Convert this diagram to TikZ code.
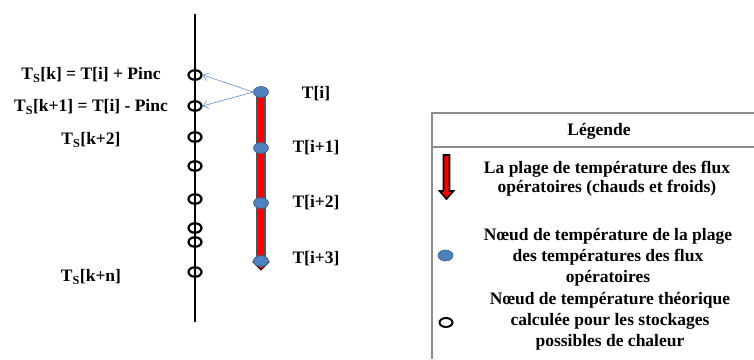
\documentclass[tikz,border=0pt]{standalone}
\usepackage{fontspec}
\setmainfont{Liberation Serif}
\usetikzlibrary{shapes.geometric,arrows.meta}
\definecolor{dotblue}{HTML}{4F81BD}
\definecolor{dotedge}{HTML}{385D8A}
\definecolor{arrblue}{HTML}{5B8FD0}
\definecolor{boxgray}{HTML}{8C8C8C}
\begin{document}
\begin{tikzpicture}[x=1pt,y=-1pt,
  txt/.style={font=\bfseries\fontsize{17.5}{20}\selectfont, inner sep=0pt},
  legtxt/.style={font=\bfseries\fontsize{17.5}{21}\selectfont, align=center, inner sep=0pt},
  opencirc/.style={ellipse, draw=black, line width=2.2pt, minimum width=13pt, minimum height=9.5pt, inner sep=0pt},
  bluedot/.style={ellipse, fill=dotblue, draw=dotedge, line width=0.6pt, minimum width=15pt, minimum height=11pt, inner sep=0pt},
  link/.style={draw=arrblue, line width=0.6pt, -{Straight Barb[length=5pt,width=8pt]}}
]
\useasboundingbox (0,0) rectangle (754,359);
% axis
\coordinate (axtop) at (195,14);
\coordinate (axbot) at (195,322);
\draw[line width=2.6pt] (axtop) -- (axbot);
% open circles
\foreach \n/\y in {c0/75,c1/106,c2/137,c3/166,c4/199,c5/228,c6/242,c7/272}
  \node[opencirc] (\n) at (195,\y) {};
% red range bar
\fill[red] (257,92) rectangle (265,262);
\draw[boxgray!60!black, line width=1.3pt] (257,92) -- (257,262) (265,92) -- (265,262);
\filldraw[fill=red, draw=black, line width=0.8pt] (253,262) -- (269,262) -- (261,270) -- cycle;
% blue dots
\node[bluedot] (d0) at (261,92) {};
\node[bluedot] (d1) at (261,148) {};
\node[bluedot] (d2) at (261,203) {};
\node[bluedot] (d3) at (261,261) {};
% links
\draw[link] (d0.west) -- (c0.east);
\draw[link] (d0.west) -- (c1.east);
% left labels
\node[txt] (l0) at (91,75) {T\textsubscript{S}[k] = T[i] + Pinc};
\node[txt] (l1) at (91,107) {T\textsubscript{S}[k+1] = T[i] - Pinc};
\node[txt] (l2) at (91,140) {T\textsubscript{S}[k+2]};
\node[txt] (l3) at (91,277) {T\textsubscript{S}[k+n]};
% right labels
\node[txt] (r0) at (316,94) {T[i]};
\node[txt] (r1) at (316,148) {T[i+1]};
\node[txt] (r2) at (316,203) {T[i+2]};
\node[txt] (r3) at (316,259) {T[i+3]};
% legend box
\draw[boxgray, line width=1.6pt] (754,113) -- (432,113) -- (432,359);
\draw[boxgray, line width=1.6pt] (432,147) -- (754,147);
\node[txt] (leg) at (599,131) {Légende};
% legend arrow
\filldraw[fill=red, draw=black, line width=1.6pt] (443.5,155) -- (449.5,155) -- (449.5,191) -- (453.5,191) -- (446.5,199) -- (439.5,191) -- (443.5,191) -- cycle;
\node[legtxt, font=\bfseries\fontsize{17.5}{19}\selectfont] (p1) at (607,179) {La plage de température des flux\\opératoires (chauds et froids)};
\node[bluedot, minimum width=15pt, minimum height=11pt] (ld) at (445.5,255.5) {};
\node[opencirc, minimum width=13pt, minimum height=9pt, line width=2pt] (lc) at (446,322.5) {};
\node[legtxt] (p2) at (608,257) {Nœud de température de la plage\\des températures des flux\\opératoires};
\node[legtxt] (p3) at (610,321) {Nœud de température théorique\\calculée pour les stockages\\possibles de chaleur};
\end{tikzpicture}
\end{document}
